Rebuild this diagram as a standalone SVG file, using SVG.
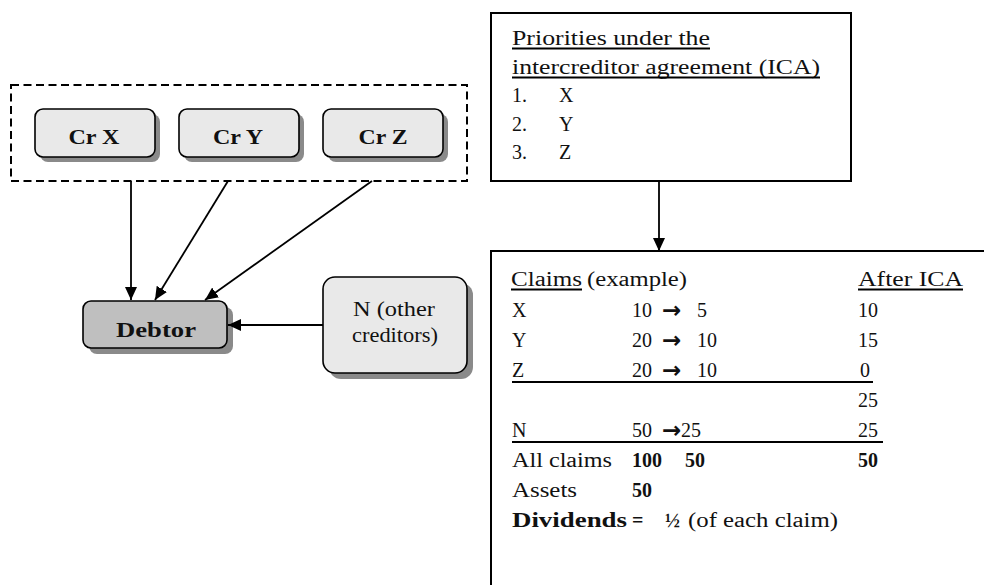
<svg xmlns="http://www.w3.org/2000/svg" width="984" height="585" viewBox="0 0 984 585">
<style>
  .t { font-family: "Liberation Serif", "Times New Roman", serif; font-size: 20px; fill: #111; }
  .b { font-weight: bold; }
  .c { text-anchor: middle; }
  .arr { font-family: "DejaVu Sans", sans-serif; font-weight: bold; font-size: 23px; fill: #111; }
  .node { stroke: #000; stroke-width: 1.6; }
  .light { fill: #e9e9e9; }
  .dark { fill: #bfbfbf; }
  .shadow { fill: #8a8a8a; }
  .box { fill: #fff; stroke: #000; stroke-width: 2; }
  .ul { stroke: #000; stroke-width: 1.8; }
  .conn { stroke: #000; stroke-width: 1.8; fill: none; marker-end: url(#ah); }
</style>
<defs>
  <marker id="ah" markerUnits="userSpaceOnUse" markerWidth="14" markerHeight="12" refX="13" refY="6" orient="auto">
    <path d="M0,0 L13,6 L0,12 z" fill="#000"/>
  </marker>
</defs>
<rect width="984" height="585" fill="#fff"/>

<g id="creditors-group">
  <rect x="11" y="85" width="456" height="96" fill="none" stroke="#000" stroke-width="2" stroke-dasharray="8,4.5"/>
</g>

<g id="cr-x">
  <rect class="shadow" x="40" y="114" width="120" height="48" rx="8"/>
  <rect class="node light" x="35" y="109" width="120" height="48" rx="8"/>
  <text class="t b c" x="94" y="144" font-size="22" textLength="51" lengthAdjust="spacingAndGlyphs">Cr X</text>
</g>
<g id="cr-y">
  <rect class="shadow" x="184" y="114" width="120" height="48" rx="8"/>
  <rect class="node light" x="179" y="109" width="120" height="48" rx="8"/>
  <text class="t b c" x="238" y="144" font-size="22" textLength="50" lengthAdjust="spacingAndGlyphs">Cr Y</text>
</g>
<g id="cr-z">
  <rect class="shadow" x="328" y="114" width="120" height="48" rx="8"/>
  <rect class="node light" x="323" y="109" width="120" height="48" rx="8"/>
  <text class="t b c" x="383" y="144" font-size="22" textLength="49" lengthAdjust="spacingAndGlyphs">Cr Z</text>
</g>

<g id="debtor">
  <rect class="shadow" x="89" y="307" width="144" height="47" rx="8"/>
  <rect class="node dark" x="83" y="301" width="144" height="47" rx="8"/>
  <text class="t b c" x="156" y="337" font-size="22" textLength="80" lengthAdjust="spacingAndGlyphs">Debtor</text>
</g>

<g id="n-creditors">
  <rect class="shadow" x="329" y="283" width="144" height="96" rx="12"/>
  <rect class="node light" x="323" y="277" width="144" height="96" rx="12"/>
  <text class="t c" x="394" y="316" textLength="82" lengthAdjust="spacingAndGlyphs">N (other</text>
  <text class="t c" x="395" y="342" textLength="86" lengthAdjust="spacingAndGlyphs">creditors)</text>
</g>

<g id="ica-priorities">
  <rect class="box" x="491" y="13" width="360" height="168"/>
  <text class="t" x="512" y="45" textLength="198" lengthAdjust="spacingAndGlyphs">Priorities under the</text>
  <line class="ul" x1="512" y1="48.5" x2="710" y2="48.5"/>
  <text class="t" x="512" y="74" textLength="308" lengthAdjust="spacingAndGlyphs">intercreditor agreement (ICA)</text>
  <line class="ul" x1="512" y1="77.5" x2="820" y2="77.5"/>
  <text class="t" x="512" y="102">1.</text><text class="t" x="559" y="102">X</text>
  <text class="t" x="512" y="131">2.</text><text class="t" x="559" y="131">Y</text>
  <text class="t" x="512" y="159">3.</text><text class="t" x="559" y="159">Z</text>
</g>

<g id="claims-table">
  <rect class="box" x="491" y="251" width="600" height="400"/>
  <text class="t" x="511" y="286" textLength="71" lengthAdjust="spacingAndGlyphs">Claims</text>
  <line class="ul" x1="511" y1="289.5" x2="582" y2="289.5"/>
  <text class="t" x="587" y="286" textLength="100" lengthAdjust="spacingAndGlyphs">(example)</text>
  <text class="t" x="858" y="286" textLength="105" lengthAdjust="spacingAndGlyphs">After ICA</text>
  <line class="ul" x1="858" y1="289.5" x2="963" y2="289.5"/>

  <text class="t" x="512" y="317">X</text>
  <text class="t"><tspan x="632" y="317">10</tspan><tspan class="arr" x="662" y="318">→</tspan><tspan x="697" y="317">5</tspan></text>
  <text class="t" x="858" y="317">10</text>

  <text class="t" x="512" y="347">Y</text>
  <text class="t"><tspan x="632" y="347">20</tspan><tspan class="arr" x="662" y="348">→</tspan><tspan x="697" y="347">10</tspan></text>
  <text class="t" x="858" y="347">15</text>

  <text class="t" x="512" y="377">Z</text>
  <text class="t"><tspan x="632" y="377">20</tspan><tspan class="arr" x="662" y="378">→</tspan><tspan x="697" y="377">10</tspan></text>
  <text class="t" x="860" y="377">0</text>
  <line class="ul" x1="512" y1="382" x2="873" y2="382"/>

  <text class="t" x="858" y="407">25</text>

  <text class="t" x="512" y="437">N</text>
  <text class="t"><tspan x="632" y="437">50</tspan><tspan class="arr" x="662" y="438">→</tspan><tspan x="681" y="437">25</tspan></text>
  <text class="t" x="858" y="437">25</text>
  <line class="ul" x1="512" y1="442" x2="883" y2="442"/>

  <text class="t" x="512" y="467" textLength="100" lengthAdjust="spacingAndGlyphs">All claims</text>
  <text class="t b" x="632" y="467">100</text>
  <text class="t b" x="685" y="467">50</text>
  <text class="t b" x="858" y="467">50</text>

  <text class="t" x="512" y="497" textLength="65" lengthAdjust="spacingAndGlyphs">Assets</text>
  <text class="t b" x="632" y="497">50</text>

  <text class="t b" x="512" y="527" textLength="115" lengthAdjust="spacingAndGlyphs">Dividends</text>
  <text class="t b" x="632" y="527">=</text>
  <text class="t b" x="665" y="527">½</text>
  <text class="t" x="688" y="527" textLength="150" lengthAdjust="spacingAndGlyphs">(of each claim)</text>
</g>

<g id="connectors">
  <line class="conn" x1="131" y1="181" x2="131" y2="300"/>
  <line class="conn" x1="228" y1="181" x2="155" y2="300"/>
  <line class="conn" x1="372" y1="181" x2="205" y2="300"/>
  <line class="conn" x1="323" y1="325" x2="228" y2="325"/>
  <line class="conn" x1="659" y1="181" x2="659" y2="251"/>
</g>
</svg>
